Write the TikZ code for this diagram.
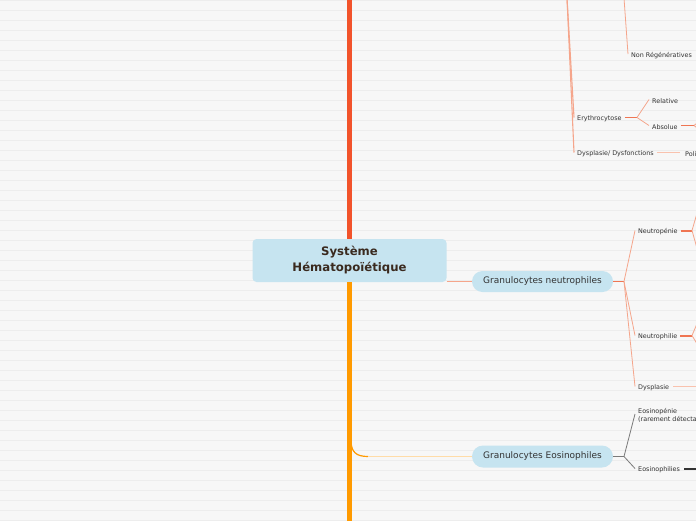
\documentclass[tikz,border=0pt]{standalone}
\usepackage{fontspec}
\setmainfont{DejaVu Sans}
\definecolor{bg}{HTML}{F7F7F7}
\definecolor{gridc}{HTML}{EDEDED}
\definecolor{trunkred}{HTML}{F2532B}
\definecolor{trunkorange}{HTML}{FF9A00}
\definecolor{paleorange}{HTML}{FFDCA8}
\definecolor{nodeblue}{HTML}{C6E4F0}
\definecolor{salmon}{HTML}{F5A58B}
\definecolor{coral}{HTML}{EF7552}
\definecolor{palesalmon}{HTML}{F9C2AE}
\definecolor{titletext}{HTML}{3A2A1F}
\definecolor{labeltext}{HTML}{333333}
\definecolor{grayline}{HTML}{7A7A7A}
\tikzset{
  mainbox/.style={rounded corners=4pt, fill=nodeblue, minimum width=194pt, minimum height=43pt, align=center, inner sep=0pt,
    font=\bfseries\fontsize{11.7}{15}\selectfont, text=titletext},
  pill/.style={rounded corners=10.5pt, fill=nodeblue, minimum width=141pt, minimum height=21pt, inner sep=0pt,
    font=\fontsize{9}{11}\selectfont, text=labeltext},
  lbl/.style={anchor=west, inner sep=0pt, font=\fontsize{6.4}{8}\selectfont, text=labeltext, align=left},
  thin/.style={salmon, line width=0.8pt},
  stub/.style={coral, line width=1.4pt},
  grayconn/.style={grayline, line width=0.8pt},
}
\begin{document}
\begin{tikzpicture}[x=1pt,y=-1pt]
\useasboundingbox (0,0) rectangle (696,520);
\clip (0,0) rectangle (696,520);
\fill[bg] (0,0) rectangle (696,520);
\foreach \k in {0,10,...,520} \draw[gridc, line width=0.9pt] (0,\k+0.5) -- (696,\k+0.5);

% nodes
\node[mainbox] (main) at (349.5,260.5) {\raisebox{-2.5pt}{\begin{tabular}{@{}c@{}}Système\\[1pt]Hématopoïétique\end{tabular}}};
\node[pill] (neut) at (542.5,281.5) {\raisebox{-1.5pt}{Granulocytes neutrophiles}};
\node[pill, minimum height=22pt, rounded corners=11pt] (eos) at (542.5,456.5) {\raisebox{-1.5pt}{Granulocytes Eosinophiles}};

\node[lbl] (nonreg) at (631,55.5) {Non Régénératives};
\node[lbl] (eryth) at (577,119) {Erythrocytose};
\node[lbl] (rel) at (652,101) {Relative};
\node[lbl] (abs) at (652,127) {Absolue};
\node[lbl] (dysf) at (577,154) {Dysplasie/ Dysfonctions};
\node[lbl] (poli) at (685,154) {Poli};
\node[lbl] (neutrop) at (638,232) {Neutropénie};
\node[lbl] (neutrophil) at (638,337) {Neutrophilie};
\node[lbl] (dysp) at (638,388) {Dysplasie};
\node[lbl] (eosinop) at (638,415.5) {Eosinopénie\\(rarement détecta};
\node[lbl] (eosinoph) at (638,470) {Eosinophilies};

% coordinates
\coordinate (trunktop) at (349.5,-2);
\coordinate (trunkbot) at (349.5,522);
\coordinate (topA) at (567,-2);
\coordinate (topB) at (624,-2);
\coordinate (efork) at (637,117.5);
\coordinate (absend) at (694,125.5);
\coordinate (absup) at (702,119);
\coordinate (absdn) at (702,132);
\coordinate (dysfend) at (680,152.5);
\coordinate (nfork) at (624,281.5);
\coordinate (npend) at (692,230.5);
\coordinate (npup) at (702,196);
\coordinate (npdn) at (702,266);
\coordinate (nlend) at (692,335.5);
\coordinate (nlup) at (702,312);
\coordinate (nldn) at (702,352);
\coordinate (dysend) at (697,386.5);
\coordinate (eosfork) at (624,456.5);
\coordinate (eoend) at (697,468.5);
\coordinate (ecurveA) at (351,440);
\coordinate (ecurveB) at (368,456.5);

% trunk
\draw[trunkred, line width=5pt] (trunktop) -- (main.north);
\draw[trunkorange, line width=5pt] (main.south) -- (trunkbot);
\draw[trunkorange, line width=1.2pt] (ecurveA) .. controls (351,452) and (356,456.5) .. (ecurveB);
\draw[paleorange, line width=1.5pt] (ecurveB) -- (eos.west);

% top area
\draw[salmon, line width=1.1pt] (topA) -- ([xshift=-3pt,yshift=1.5pt]eryth.west);
\draw[salmon, line width=1.1pt] (topA) -- ([xshift=-3pt,yshift=1.5pt]dysf.west);
\draw[thin] (topB) -- ([xshift=-3pt,yshift=1.5pt]nonreg.west);
\draw[stub, line width=1.2pt] ([xshift=3pt]eryth.east |- efork) -- (efork);
\draw[thin] (efork) -- ([xshift=-3pt,yshift=1.5pt]rel.west);
\draw[thin] (efork) -- ([xshift=-3pt,yshift=1.5pt]abs.west);
\draw[stub, line width=1.2pt] ([xshift=3pt]abs.east |- absend) -- (absend);
\draw[thin] (absend) -- (absup);
\draw[thin] (absend) -- (absdn);
\draw[palesalmon, line width=1.5pt] ([xshift=3pt]dysf.east |- dysfend) -- (dysfend);

% neutrophiles
\draw[salmon, line width=0.9pt] (main.east |- neut.west) -- (neut.west);
\draw[stub, line width=1.2pt] (neut.east) -- (nfork);
\draw[thin] (nfork) -- ([xshift=-3pt,yshift=1.5pt]neutrop.west);
\draw[thin] (nfork) -- ([xshift=-3pt,yshift=1.5pt]neutrophil.west);
\draw[thin] (nfork) -- ([xshift=-3pt,yshift=1.5pt]dysp.west);
\draw[stub, line width=2pt] ([xshift=3pt]neutrop.east |- npend) -- (npend);
\draw[thin] (npend) -- (npup);
\draw[thin] (npend) -- (npdn);
\draw[stub, line width=2pt] ([xshift=3pt]neutrophil.east |- nlend) -- (nlend);
\draw[thin] (nlend) -- (nlup);
\draw[thin] (nlend) -- (nldn);
\draw[palesalmon, line width=1.2pt] ([xshift=4pt]dysp.east |- dysend) -- (dysend);

% eosinophiles
\draw[grayline, line width=1.4pt] (eos.east) -- (eosfork);
\draw[grayconn] (eosfork) -- ([xshift=-3pt,yshift=1.5pt]eosinop.west);
\draw[grayconn] (eosfork) -- ([xshift=-3pt,yshift=1.5pt]eosinoph.west);
\draw[labeltext, line width=2pt] ([xshift=4pt]eosinoph.east |- eoend) -- (eoend);
\end{tikzpicture}
\end{document}
